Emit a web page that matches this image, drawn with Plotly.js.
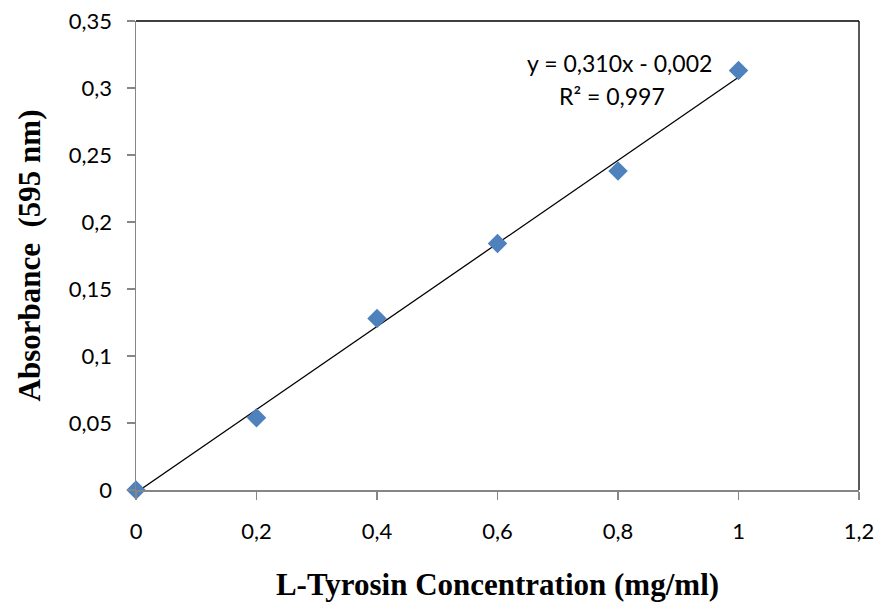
<!DOCTYPE html>
<html>
<head>
<meta charset="utf-8">
<script src="https://cdn.plot.ly/plotly-3.0.1.min.js"></script>
<style>
  html, body { margin: 0; padding: 0; background: #fff; }
  #chart { width: 882px; height: 612px; }
</style>
</head>
<body>
<div id="chart"></div>
<script>
// L-Tyrosin standard curve measurements
const concentration = [0, 0.2, 0.4, 0.6, 0.8, 1.0];
const absorbance = [0, 0.054, 0.128, 0.184, 0.238, 0.313];

// Linear trendline coefficients
const slope = 0.310;
const intercept = -0.002;
const rSquared = '0,997';

const xTickVals = [0, 0.2, 0.4, 0.6, 0.8, 1, 1.2];
const xTickText = ['0', '0,2', '0,4', '0,6', '0,8', '1', '1,2'];
const yTickVals = [0, 0.05, 0.1, 0.15, 0.2, 0.25, 0.3, 0.35];
const yTickText = ['0', '0,05', '0,1', '0,15', '0,2', '0,25', '0,3', '0,35'];

const trendX = [concentration[0], concentration[concentration.length - 1]];
const trendY = trendX.map(x => slope * x + intercept);

const fmt = v => v.toFixed(3).replace('.', ',');
const equationText = 'y = ' + fmt(slope) + 'x - ' + fmt(Math.abs(intercept));
const r2Text = 'R² = ' + rSquared;

const sansFamily = 'Lato, "Open Sans", sans-serif';
const tickFont = { family: sansFamily, size: 22, color: '#000' };
const titleFont = { family: '"Liberation Serif", "Times New Roman", serif', size: 31, color: '#000' };
const noteFont = { family: sansFamily, size: 23, color: '#000' };

const traces = [
  {
    x: trendX, y: trendY, mode: 'lines', type: 'scatter',
    line: { color: '#000', width: 1.3 }, hoverinfo: 'skip', cliponaxis: false
  },
  {
    x: concentration, y: absorbance, mode: 'markers', type: 'scatter',
    marker: { symbol: 'diamond', size: 15, color: '#4F81BD', line: { width: 0 } },
    cliponaxis: false
  }
];

const layout = {
  width: 882, height: 612,
  margin: { l: 136, r: 23, t: 21, b: 122 },
  paper_bgcolor: '#fff', plot_bgcolor: '#fff',
  showlegend: false,
  separators: ',.',
  xaxis: {
    range: [0, 1.2], tickvals: xTickVals, ticktext: xTickText,
    showgrid: false, zeroline: false,
    showline: true, linecolor: '#868686', linewidth: 1.5,
    ticks: 'outside', ticklen: 8, tickcolor: '#868686', tickwidth: 1.5,
    tickfont: tickFont, ticklabelstandoff: 13,
    title: { text: '<b>L-Tyrosin Concentration (mg/ml)</b>', font: titleFont, standoff: 30 }
  },
  yaxis: {
    range: [0, 0.35], tickvals: yTickVals, ticktext: yTickText,
    showgrid: false, zeroline: false,
    showline: true, linecolor: '#868686', linewidth: 1.5,
    ticks: 'outside', ticklen: 8, tickcolor: '#868686', tickwidth: 1.5,
    tickfont: tickFont, ticklabelstandoff: 10,
    title: { text: '<b>Absorbance  (595 nm)</b>', font: titleFont, standoff: 19 }
  },
  shapes: [
    { type: 'line', xref: 'paper', yref: 'paper', x0: 0, x1: 1, y0: 1, y1: 1, line: { color: '#000', width: 1.3 } },
    { type: 'line', xref: 'paper', yref: 'paper', x0: 1, x1: 1, y0: 0, y1: 1, line: { color: '#000', width: 1.3 } }
  ],
  annotations: [
    { xref: 'x', yref: 'y', x: 0.802, y: 0.3187, showarrow: false, text: equationText, font: noteFont },
    { xref: 'x', yref: 'y', x: 0.790, y: 0.2941, showarrow: false, text: r2Text, font: noteFont }
  ]
};

Plotly.newPlot('chart', traces, layout, { displayModeBar: false, staticPlot: true });
</script>
</body>
</html>
